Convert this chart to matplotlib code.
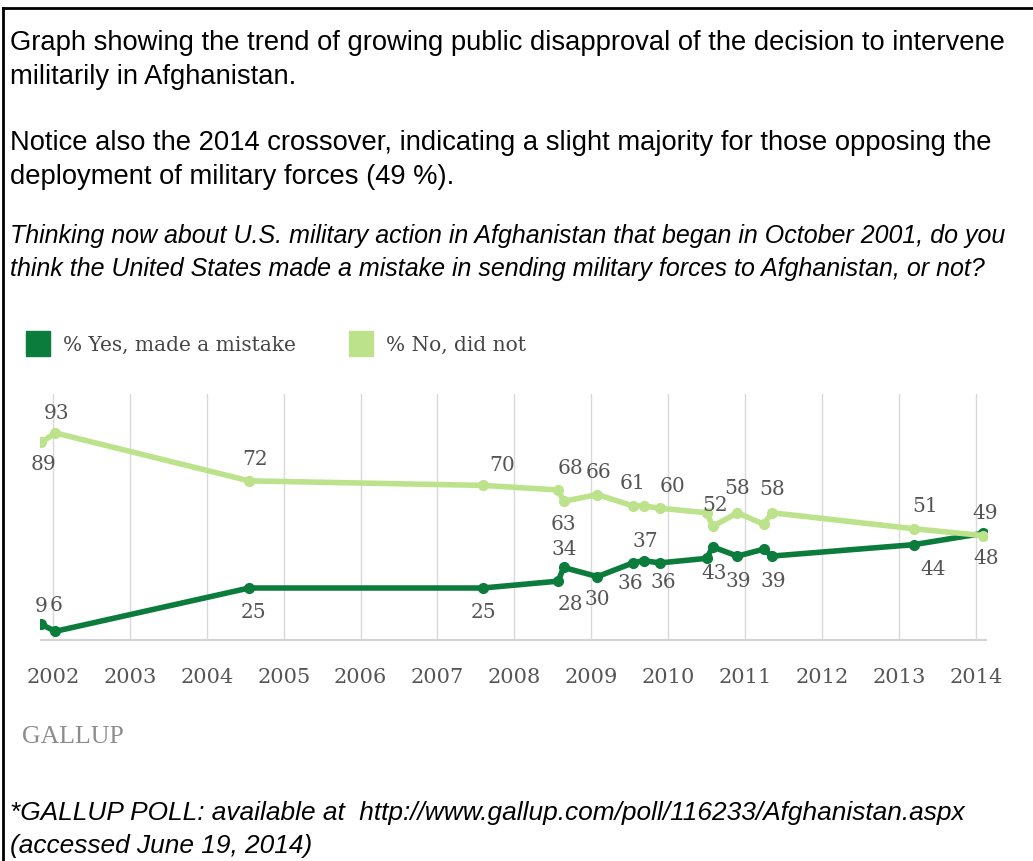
import matplotlib
matplotlib.use("Agg")
import matplotlib.pyplot as plt
from matplotlib.lines import Line2D
from matplotlib.patches import Rectangle

# poll dates as decimal years
poll_dates = [2001.85, 2002.03, 2004.55, 2007.59, 2008.57, 2008.64, 2009.08, 2009.54,
              2009.68, 2009.89, 2010.50, 2010.58, 2010.90, 2011.24, 2011.35, 2013.19, 2014.10]
yes_mistake = [9, 6, 25, 25, 28, 34, 30, 36, 37, 36, 38, 43, 39, 42, 39, 44, 49]
no_not = [89, 93, 72, 70, 68, 63, 66, 61, 61, 60, 58, 52, 58, 53, 58, 51, 48]
# which points carry a data label
yes_labeled = [1, 1, 1, 1, 1, 1, 1, 1, 1, 1, 0, 1, 1, 0, 1, 1, 1]
no_labeled = [1, 1, 1, 1, 1, 1, 1, 1, 0, 1, 0, 1, 1, 0, 1, 1, 1]
years = list(range(2002, 2015))

series_names = ["% Yes, made a mistake", "% No, did not"]

# label offsets in pixels (dx right, dy down) - layout only
yes_off = [(0, -19), (1, -27), (4, 23), (1, 23), (12, 22), (1, -19), (0, 22), (-3, 20),
           (2, -20), (4, 19), (0, 0), (1, 26), (1, 24), (0, 0), (1, 24), (20, 24), (2, -21)]
no_off = [(2, 21), (1, -20), (6, -22), (19, -21), (12, -22), (0, 22), (1, -23), (0, -23),
          (0, 0), (13, -23), (0, 0), (2, -22), (0, -25), (0, 0), (0, -24), (12, -23), (3, 22)]

dark = "#0b7c3c"
light = "#bce38c"
label_col = "#555555"
serif = "DejaVu Serif"
sans = "Liberation Sans"

W, H = 1033, 862
fig = plt.figure(figsize=(W / 100, H / 100), dpi=100)
fig.patch.set_facecolor("white")

def fx(px):
    return px / W

def fy(py):
    return 1 - py / H

# frame: top and left only
fig.add_artist(Line2D([fx(3), 1], [fy(9), fy(9)], color="black", lw=2))
fig.add_artist(Line2D([fx(3), fx(3)], [fy(9), 0], color="black", lw=2))

# intro text
intro = [
    ("Graph showing the trend of growing public disapproval of the decision to intervene", 50, "normal", 19.7),
    ("militarily in Afghanistan.", 84, "normal", 19.7),
    ("Notice also the 2014 crossover, indicating a slight majority for those opposing the", 150, "normal", 19.7),
    ("deployment of military forces (49 %).", 184, "normal", 19.7),
    ("Thinking now about U.S. military action in Afghanistan that began in October 2001, do you", 243, "italic", 18),
    ("think the United States made a mistake in sending military forces to Afghanistan, or not?", 276, "italic", 18),
    ("*GALLUP POLL: available at  http://www.gallup.com/poll/116233/Afghanistan.aspx", 820, "italic", 18.9),
    ("(accessed June 19, 2014)", 853, "italic", 18.9),
]
for txt, base, style, size in intro:
    fig.text(fx(10), fy(base), txt, fontsize=size, family=sans, style=style,
             color="black", va="baseline", ha="left")

# legend
for i, (name, col) in enumerate(zip(series_names, [dark, light])):
    x0 = [26, 349][i]
    fig.add_artist(Rectangle((fx(x0), fy(357)), 24 / W, 25 / H, color=col,
                             transform=fig.transFigure))
    fig.text(fx(x0 + 37), fy(345), name, fontsize=14.5, family=serif,
             color="#444444", va="center", ha="left")

# GALLUP mark
fig.text(fx(22), fy(737), "GALLUP", fontsize=18.5, family="Liberation Serif",
         color="#8c8c8c", va="center", ha="left")

# chart area
ax = fig.add_axes([fx(40), fy(642), (987 - 40) / W, (642 - 395) / H])
px_per_year = 76.9
ax.set_xlim(2002 - 13 / px_per_year, 2002 + (987 - 53) / px_per_year)
ax.set_ylim((646 - 642) / 2.28, (646 - 395) / 2.28)
for s in ax.spines.values():
    s.set_visible(False)
ax.set_xticks([])
ax.set_yticks([])

for yr in years:
    ax.axvline(yr, color="#d9d9d9", lw=1, zorder=0)
    ax.text(yr, -0.145, str(yr), transform=ax.get_xaxis_transform(), ha="center",
            va="center", fontsize=15, family=serif, color=label_col)
ax.axhline(ax.get_ylim()[0], color="#d3d3d3", lw=3, zorder=1)

ax.plot(poll_dates, yes_mistake, color=dark, lw=4, marker="o", ms=7,
        solid_joinstyle="round", zorder=3)
ax.plot(poll_dates, no_not, color=light, lw=4, marker="o", ms=7,
        solid_joinstyle="round", zorder=4)

for vals, flags, offs in [(yes_mistake, yes_labeled, yes_off), (no_not, no_labeled, no_off)]:
    for x, v, f, (dx, dy) in zip(poll_dates, vals, flags, offs):
        if not f:
            continue
        ax.annotate(str(v), (x, v), xytext=(dx, -dy), textcoords="offset pixels",
                    ha="center", va="center", fontsize=14.5, family=serif,
                    color=label_col, zorder=5)

fig.savefig("out.png", dpi=100)
